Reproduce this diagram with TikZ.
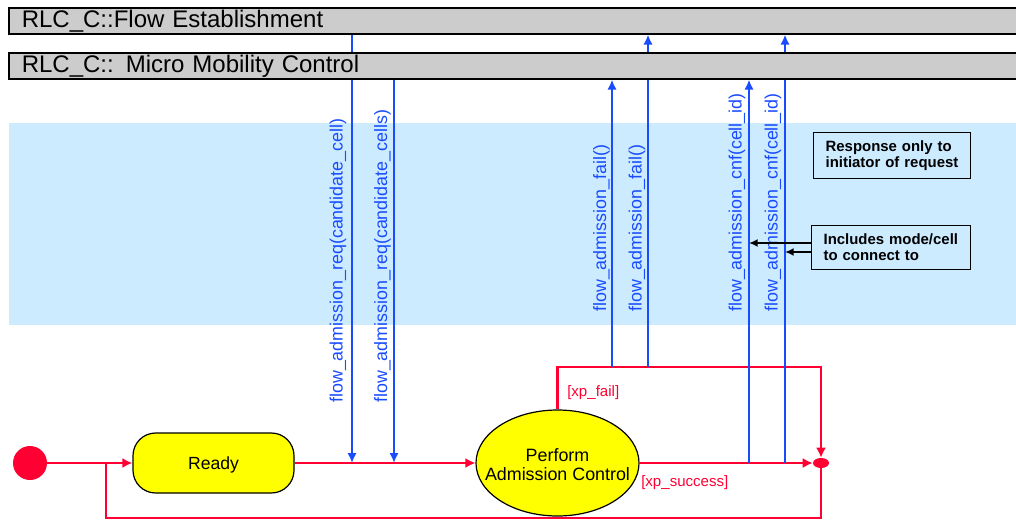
\documentclass[tikz,border=0pt]{standalone}
\usepackage{fontspec}
\setmainfont{Liberation Sans}
\usetikzlibrary{arrows.meta,shapes.geometric}
\definecolor{sigblue}{RGB}{25,75,255}
\definecolor{trred}{RGB}{255,0,51}
\definecolor{bandblue}{RGB}{204,235,255}
\definecolor{bargray}{RGB}{204,204,204}
\definecolor{stateyellow}{RGB}{255,255,0}

\begin{document}
\begin{tikzpicture}[x=0.75pt,y=-0.75pt,
  bar/.style={draw=black, line width=1.2pt, fill=bargray, anchor=north west,
    inner xsep=9.75pt, inner ysep=0pt, text width=747pt, align=left,
    minimum height=19.5pt, font=\fontsize{18}{20}\selectfont},
  state/.style={draw=black, line width=0.9pt, fill=stateyellow, align=center},
  tr/.style={draw=trred, line width=2.1pt, -{Latex[length=7.5pt,width=7.5pt]}},
  trline/.style={draw=trred, line width=2.1pt},
  guard/.style={text=trred, font=\fontsize{11.3}{13}\selectfont, inner sep=0pt},
  sig/.style={draw=sigblue, line width=1.6pt, -{Latex[length=7.5pt,width=7pt]}},
  sigline/.style={draw=sigblue, line width=1.6pt},
  siglabel/.style={text=sigblue, rotate=90, anchor=west, inner sep=0pt,
    font=\fontsize{13.4}{15}\selectfont},
  note/.style={draw=black, line width=0.9pt, fill=bandblue, anchor=north west,
    inner xsep=9pt, inner ysep=0pt, align=left,
    font=\bfseries\fontsize{11.2}{12}\selectfont},
  notearrow/.style={draw=black, line width=1.6pt, -{Latex[length=6.5pt,width=6pt]}}
]
\useasboundingbox (0,0) rectangle (1016,521);
\clip (0,0) rectangle (1016,521);

% shaded region behind the message labels
\fill[bandblue] (9,123) rectangle (1016,325);

% the two collaborating blocks
\node[bar] (fe)  at (8,7)  {RLC\_C::Flow Establishment};
\node[bar] (mmc) at (8,52) {RLC\_C:: Micro Mobility Control};

% states
\node[circle, fill=trred, minimum size=25.5pt, inner sep=0pt] (init) at (30,463) {};
\node[state, rectangle, rounded corners=17pt, minimum width=120.75pt, minimum height=45pt,
  text depth=0pt, font=\fontsize{13.2}{15}\selectfont] (ready) at (213.5,463) {Ready};
\node[state, ellipse, minimum width=122.25pt, minimum height=79.5pt, inner sep=0pt,
  label={[align=center, inner sep=0pt, yshift=-1pt, font=\fontsize{13.4}{14.4}\selectfont]center:Perform\\Admission Control}]
  (pac) at (557.5,463) {};
\node[ellipse, fill=trred, minimum width=12pt, minimum height=7.5pt, inner sep=0pt] (junc) at (821,463) {};

% anchor points of the transitions
\coordinate (merge)   at (106,463);
\coordinate (loopbl)  at (106,518);
\coordinate (failtr)  at (821,367);
\coordinate (req1)    at (352,463);
\coordinate (req2)    at (394,463);
\coordinate (fail1)   at (612,367);
\coordinate (fail2)   at (648,367);
\coordinate (cnf1)    at (749,463);
\coordinate (cnf2)    at (785,463);

% transitions
\draw[tr] (init) -- (init -| ready.west);
\draw[trline] (junc) |- (loopbl) -- (merge);
\draw[tr] (ready.east |- pac) -- (pac);
\draw[tr] (pac) -- (junc);
\draw[tr] (pac.north) |- (failtr) -- (junc);
\node[guard, anchor=west] (gfail) at (567,393) {[xp\_fail]};
\node[guard, anchor=west] (gsucc) at (641,483) {[xp\_success]};

% incoming requests
\draw[sigline] (req1 |- fe.south) -- (req1 |- mmc.north);
\draw[sig] (req1 |- mmc.south) -- (req1);
\draw[sig] (req2 |- mmc.south) -- (req2);
\node[siglabel] (lreq1) at (338,403) {flow\_admission\_req(candidate\_cell)};
\node[siglabel] (lreq2) at (382.5,403) {flow\_admission\_req(candidate\_cells)};

% failure responses
\draw[sig] (fail1) -- (fail1 |- mmc.south);
\draw[sigline] (fail2) -- (fail2 |- mmc.south);
\draw[sig] (fail2 |- mmc.north) -- (fail2 |- fe.south);
\node[siglabel] (lfail1) at (601.5,312) {flow\_admission\_fail()};
\node[siglabel] (lfail2) at (637,312) {flow\_admission\_fail()};

% confirmations
\draw[sig] (cnf1) -- (cnf1 |- mmc.south);
\draw[sigline] (cnf2) -- (cnf2 |- mmc.south);
\draw[sig] (cnf2 |- mmc.north) -- (cnf2 |- fe.south);
\node[siglabel] (lcnf1) at (737,312) {flow\_admission\_cnf(cell\_id)};
\node[siglabel] (lcnf2) at (773,312) {flow\_admission\_cnf(cell\_id)};

% notes
\node[note, minimum width=117.75pt, minimum height=34.5pt, text width=99.75pt] (n1) at (813,132)
  {Response only to\\initiator of request};
\node[note, minimum width=119.25pt, minimum height=33pt, text width=101.25pt] (n2) at (811,225)
  {Includes mode/cell\\to connect to};
\coordinate (na) at (811,243);
\coordinate (nb) at (811,252);
\draw[notearrow] (na) -- (na -| cnf1);
\draw[notearrow] (nb) -- (nb -| cnf2);
\end{tikzpicture}
\end{document}
